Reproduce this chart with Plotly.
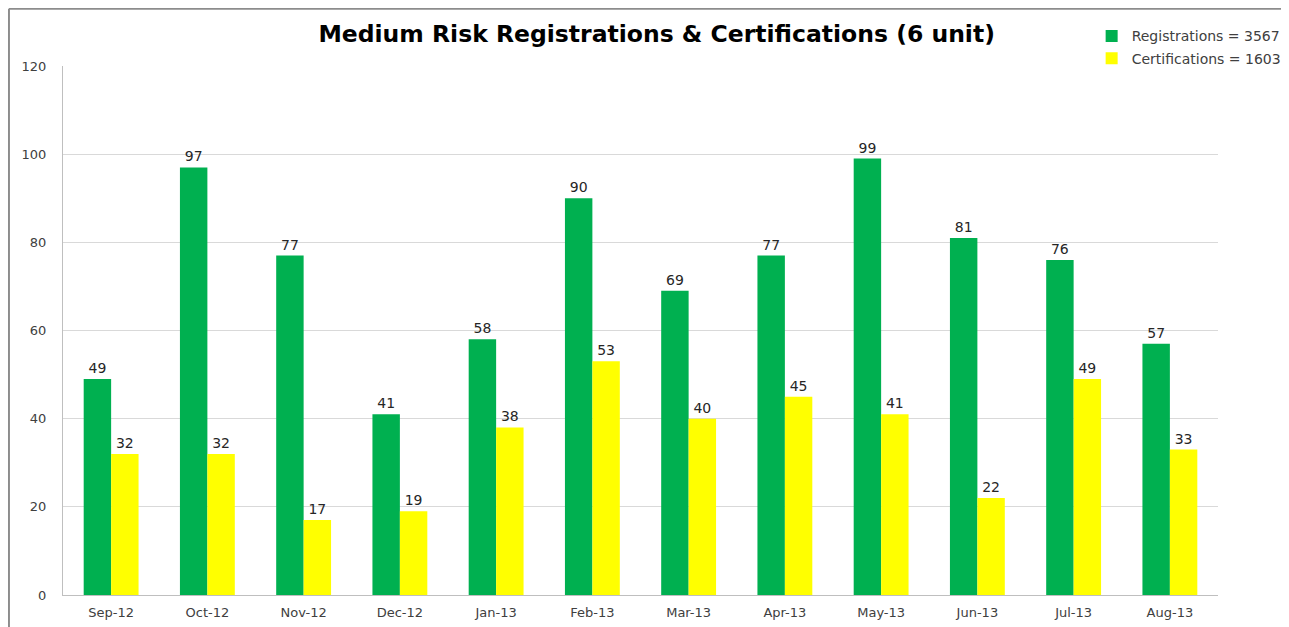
import plotly.graph_objects as go

months = ["Sep-12", "Oct-12", "Nov-12", "Dec-12", "Jan-13", "Feb-13",
          "Mar-13", "Apr-13", "May-13", "Jun-13", "Jul-13", "Aug-13"]
registrations = [49, 97, 77, 41, 58, 90, 69, 77, 99, 81, 76, 57]
certifications = [32, 32, 17, 19, 38, 53, 40, 45, 41, 22, 49, 33]
y_ticks = [0, 20, 40, 60, 80, 100, 120]

FONT = "DejaVu Sans, Open Sans, sans-serif"

fig = go.Figure()
fig.add_trace(go.Bar(
    x=months, y=registrations, name="Registrations = 3567", legendgroup="r",
    marker=dict(color="#00B050", line=dict(width=0)),
    text=registrations, textposition="outside", cliponaxis=False,
    constraintext="none",
    textfont=dict(size=14, color="#262626", family=FONT),
))
fig.add_trace(go.Bar(
    x=months, y=certifications, name="Certifications = 1603", legendgroup="c",
    marker=dict(color="#FFFF00", line=dict(width=0)),
    text=certifications, textposition="outside", cliponaxis=False,
    constraintext="none",
    textfont=dict(size=14, color="#262626", family=FONT),
))

fig.update_layout(
    width=1281, height=619,
    margin=dict(l=55, r=71, t=58, b=32, autoexpand=False),
    paper_bgcolor="white", plot_bgcolor="white",
    barmode="group", bargap=0.43, bargroupgap=0,
    font=dict(family=FONT, size=13, color="#404040"),
    title=dict(text="<b>Medium Risk Registrations & Certifications (6 unit)</b>",
               x=0.514, xanchor="center", xref="paper", y=(619 - 26) / 619,
               yanchor="middle",
               font=dict(size=23.5, color="black", family=FONT)),
    legend=dict(x=0.8906, y=1.0862, xanchor="left", yanchor="top",
                bgcolor="rgba(0,0,0,0)", tracegroupgap=1, traceorder="grouped",
                font=dict(size=14, color="#404040", family=FONT),
                itemwidth=30),
    showlegend=True,
)
fig.update_xaxes(showgrid=False, showline=True, linecolor="#BFBFBF", linewidth=1,
                 ticks="", ticklabelstandoff=5,
                 tickfont=dict(size=13, color="#404040"))
fig.update_yaxes(range=[0, 120], tickvals=y_ticks, showgrid=True,
                 gridcolor="#D9D9D9", gridwidth=1, showline=True,
                 linecolor="#BFBFBF", linewidth=1, mirror=False,
                 zeroline=False, ticks="", ticklabelstandoff=13,
                 tickfont=dict(size=13, color="#404040"))
# chart border (top and left edges visible)
fig.add_shape(type="line", xref="paper", yref="paper",
              x0=-0.0468, x1=1.07, y0=1.108, y1=1.108,
              line=dict(color="#8C8C8C", width=2))
fig.add_shape(type="line", xref="paper", yref="paper",
              x0=-0.0468, x1=-0.0468, y0=-0.07, y1=1.108,
              line=dict(color="#8C8C8C", width=2))

fig.write_html("out.html")
